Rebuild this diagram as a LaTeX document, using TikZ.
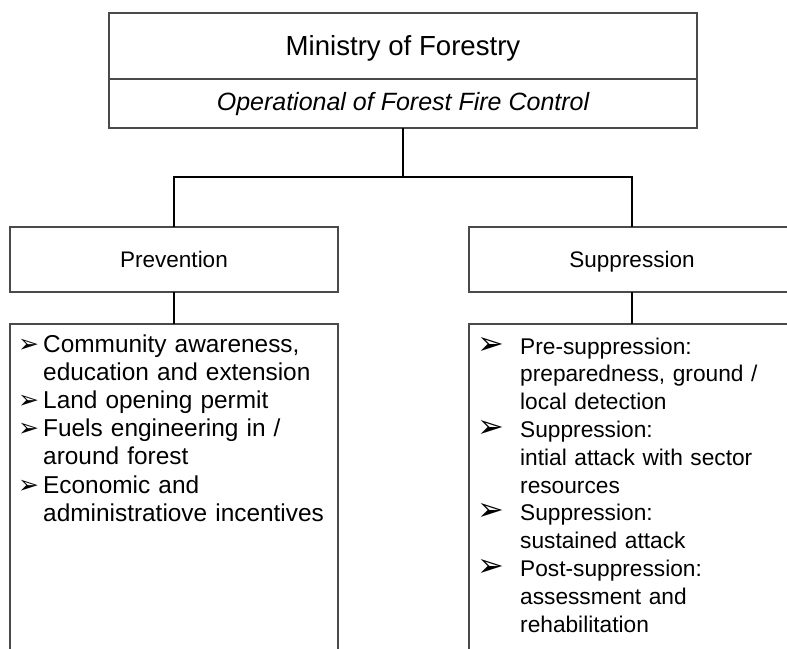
\documentclass[tikz,border=0pt]{standalone}
\usepackage{fontspec}
\setmainfont{Liberation Sans}
\newfontfamily\dingfont{DejaVu Sans}
\definecolor{boxgray}{HTML}{4A4A4A}
% arrowhead bullet used in the two lists (size as argument)
\newcommand\arrowbullet[1]{{\dingfont\fontsize{#1}{#1}\selectfont\char"27A2}}
% forced line break inside a list entry
\newcommand\nl{\hfil\break}
% one list entry: indent, bullet size, text with hanging indent
\newcommand\listentry[3]{\hangindent=#1\hangafter=1\noindent\makebox[#1][l]{\arrowbullet{#2}}#3\par}
\begin{document}
\begin{tikzpicture}[x=1pt,y=-1pt,
  frame/.style={draw=boxgray, line width=1.3pt, rectangle, inner sep=0pt, outer sep=0pt, anchor=north west},
  link/.style={draw=black, line width=1.6pt, line join=miter},
  items/.style={anchor=base west, inner sep=0pt, text width=315pt},
]
\useasboundingbox (0,0) rectangle (787,648);
\clip (0,0) rectangle (787,648);

% head office
\node[frame, minimum width=588pt, minimum height=66pt,
      font=\fontsize{27.6}{33}\selectfont, text height=19.8pt, text depth=0pt]
  (ministry) at (109,13) {Ministry of Forestry};
\node[frame, minimum width=588pt, minimum height=49pt,
      font=\itshape\fontsize{25}{30}\selectfont, text height=13pt, text depth=0pt]
  (operational) at (109,79) {Operational of Forest Fire Control};

% the two branches
\node[frame, minimum width=328pt, minimum height=65pt,
      font=\fontsize{22.5}{27}\selectfont, text height=16.5pt, text depth=0pt]
  (prevention) at (10,227) {Prevention};
\node[frame, minimum width=326pt, minimum height=65pt,
      font=\fontsize{22.5}{27}\selectfont, text height=16.5pt, text depth=0pt]
  (suppression) at (469,227) {Suppression};

% activity boxes
\node[frame, minimum width=328pt, minimum height=380pt] (preventionlist) at (10,324) {};
\node[frame, minimum width=326pt, minimum height=380pt] (suppressionlist) at (469,324) {};

\node[items, font=\fontsize{24.4}{28.2}\selectfont] (preventionitems) at (18,352) {%
  \listentry{25pt}{25}{Community awareness,\nl education and extension}%
  \listentry{25pt}{25}{Land opening permit}%
  \listentry{25pt}{25}{Fuels engineering in /\nl around forest}%
  \listentry{25pt}{25}{Economic and\nl administratiove incentives}%
};
\node[items, text width=300pt, font=\fontsize{22.7}{27.8}\selectfont] (suppressionitems) at (477,354) {%
  \listentry{43pt}{32}{Pre-suppression:\nl preparedness, ground /\nl local detection}%
  \listentry{43pt}{32}{Suppression:\nl intial attack with sector\nl resources}%
  \listentry{43pt}{32}{Suppression:\nl sustained attack}%
  \listentry{43pt}{32}{Post-suppression:\nl assessment and\nl rehabilitation}%
};

% connectors
\coordinate (split) at (403,177);
\draw[link] (operational.south) -- (split);
\draw[link] (prevention.north) |- (split) -| (suppression.north);
\draw[link] (prevention.south) -- (preventionlist.north);
\draw[link] (suppression.south) -- (suppressionlist.north);
\end{tikzpicture}
\end{document}
